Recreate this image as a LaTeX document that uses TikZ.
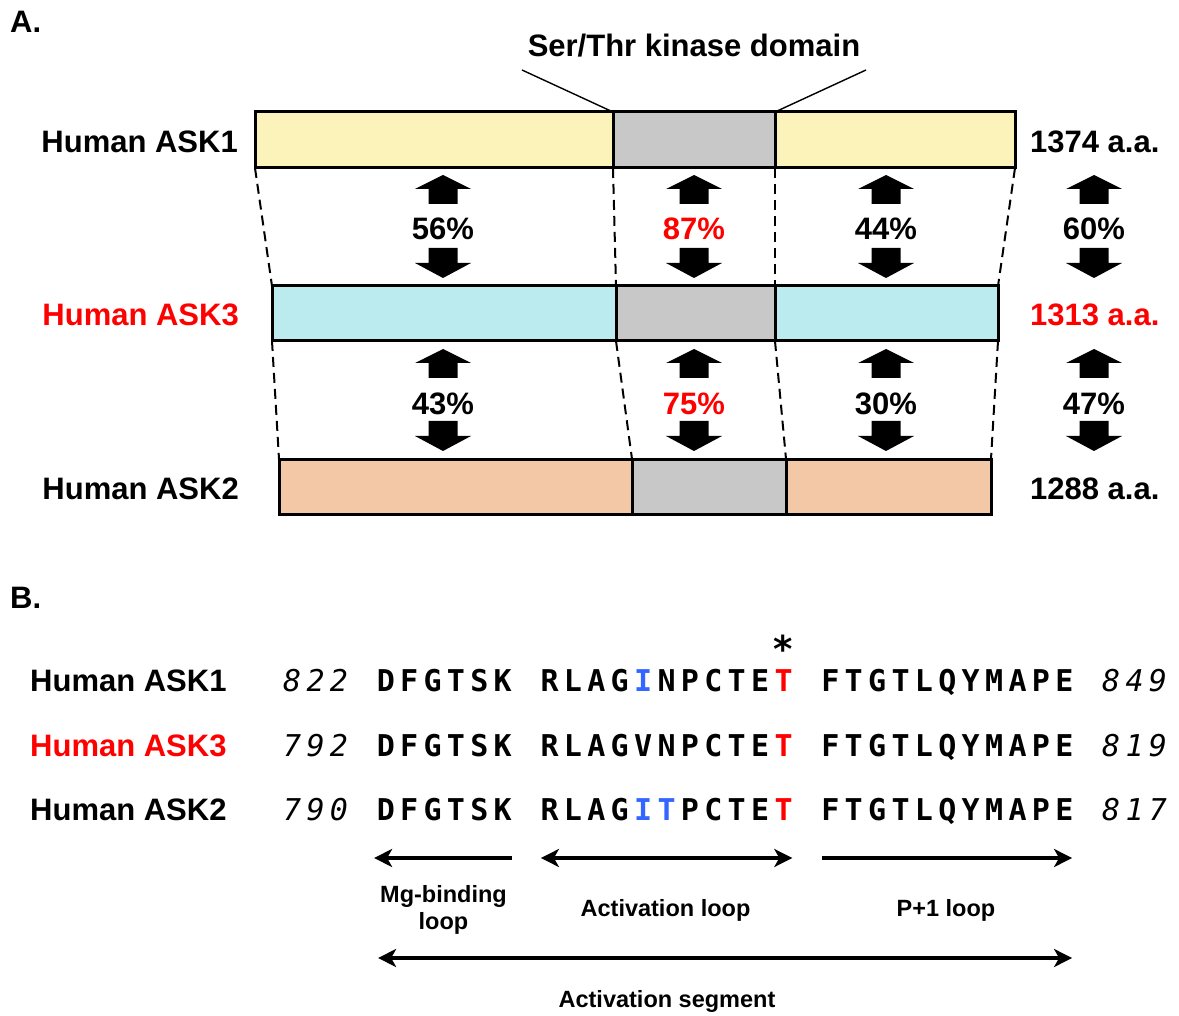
\documentclass[tikz,border=0pt]{standalone}
\usepackage{fontspec}
\setmainfont{Liberation Sans}
\newfontfamily\seqfont{DejaVu Sans Mono}
\newfontfamily\starfont{DejaVu Sans}
\usepackage{xcolor}
\usetikzlibrary{positioning,arrows.meta}

\definecolor{askyel}{RGB}{251,243,185}
\definecolor{askcyan}{RGB}{187,235,238}
\definecolor{askpeach}{RGB}{242,200,167}
\definecolor{kingrey}{RGB}{200,200,200}
\definecolor{hlred}{RGB}{255,0,0}
\definecolor{hlblue}{RGB}{51,102,255}

% one residue per fixed-width cell
\makeatletter
\newcommand\seqtxt[1]{\@tfor\sq@c:=#1\do{\makebox[23.4pt]{\sq@c}}}
\makeatother

\tikzset{
	lab/.style={font=\fontsize{31}{36}\selectfont\bfseries, inner sep=0pt},
	smalllab/.style={font=\fontsize{23.5}{27}\selectfont\bfseries, align=center, inner sep=0pt},
	seq/.style={font=\fontsize{30}{36}\selectfont\seqfont\bfseries, inner sep=0pt, outer sep=0pt, anchor=base west},
	seqno/.style={seq, font=\fontsize{30}{36}\selectfont\seqfont\itshape},
	bar/.style={draw, line width=3pt, minimum height=56pt, inner sep=0pt, outer sep=0pt, anchor=north west},
	linkdash/.style={line width=2pt, dash pattern=on 10pt off 6pt},
	callout/.style={line width=1.4pt},
	segarr/.style={line width=3.2pt, {Stealth[length=18pt,width=18pt,inset=5pt]}-{Stealth[length=18pt,width=18pt,inset=5pt]}},
	pics/uparr/.style={code={\fill (0,0) -- (28,14) -- (14.5,14) -- (14.5,29) -- (-14.5,29) -- (-14.5,14) -- (-28,14) -- cycle;}},
	pics/dnarr/.style={code={\fill (0,0) -- (28,-15) -- (14.5,-15) -- (14.5,-30) -- (-14.5,-30) -- (-14.5,-15) -- (-28,-15) -- cycle;}},
}

\begin{document}
\begin{tikzpicture}[x=1pt,y=-1pt]
	\useasboundingbox (0,0) rectangle (1179,1016);
	
	% A. domain bars
	\node[lab, anchor=base west] (pa) at (10,33) {A.};
	
	\node[bar, fill=askyel, minimum width=358pt] (a1l) at (255,112) {};
	\node[bar, fill=kingrey, minimum width=162pt, right=0pt of a1l] (a1k) {};
	\node[bar, fill=askyel, minimum width=240pt, right=0pt of a1k] (a1r) {};
	
	\node[bar, fill=askcyan, minimum height=55pt, minimum width=344pt] (a3l) at (272,286) {};
	\node[bar, fill=kingrey, minimum height=55pt, minimum width=159pt, right=0pt of a3l] (a3k) {};
	\node[bar, fill=askcyan, minimum height=55pt, minimum width=223pt, right=0pt of a3k] (a3r) {};
	
	\node[bar, fill=askpeach, minimum height=55pt, minimum width=353pt] (a2l) at (279,459) {};
	\node[bar, fill=kingrey, minimum height=55pt, minimum width=154pt, right=0pt of a2l] (a2k) {};
	\node[bar, fill=askpeach, minimum height=55pt, minimum width=205pt, right=0pt of a2k] (a2r) {};
	
	% kinase domain label
	\node[lab, anchor=base] (kd) at (694,57) {Ser/Thr kinase domain};
	\coordinate (kdl) at (522,70);
	\coordinate (kdr) at (866,70);
	\draw[callout] (kdl) -- (a1k.north west);
	\draw[callout] (kdr) -- (a1k.north east);
	
	% row labels
	\node[lab, anchor=base east] (h1) at (238,153) {Human ASK1};
	\node[lab, anchor=base east, text=hlred] (h3) at (239,326) {Human ASK3};
	\node[lab, anchor=base east] (h2) at (239,499) {Human ASK2};
	\node[lab, anchor=base west] (l1) at (1030,153) {1374 a.a.};
	\node[lab, anchor=base west, text=hlred] (l3) at (1030,326) {1313 a.a.};
	\node[lab, anchor=base west] (l2) at (1030,499) {1288 a.a.};
	
	% dashed links between bars
	\draw[linkdash] (a1l.south west) -- (a3l.north west);
	\draw[linkdash] (a1k.south west) -- (a3k.north west);
	\draw[linkdash] (a1k.south east) -- (a3k.north east);
	\draw[linkdash] (a1r.south east) -- (a3r.north east);
	\draw[linkdash] (a3l.south west) -- (a2l.north west);
	\draw[linkdash] (a3k.south west) -- (a2k.north west);
	\draw[linkdash] (a3k.south east) -- (a2k.north east);
	\draw[linkdash] (a3r.south east) -- (a2r.north east);
	
	% identities
	\foreach \x/\cc/\pa/\pb in {443/black/56/43, 694/hlred/87/75, 886/black/44/30, 1094/black/60/47}{
		\pic at (\x,175) {uparr};
		\node[lab, text=\cc, anchor=base] (pa\x) at (\x,240) {\pa\%};
		\pic at (\x,278) {dnarr};
		\pic at (\x,349) {uparr};
		\node[lab, text=\cc, anchor=base] (pb\x) at (\x,414) {\pb\%};
		\pic at (\x,451) {dnarr};
	}
	
	% B. alignment
	\node[lab, anchor=base west] (pb) at (10,608) {B.};
	\node[anchor=base, inner sep=0pt, font=\fontsize{37}{37}\selectfont\starfont\bfseries] (star) at (783.6,662) {*};
	
	\node[lab, anchor=base west] (b1) at (30,691) {Human ASK1};
	\node[lab, anchor=base west, text=hlred] (b3) at (30,756) {Human ASK3};
	\node[lab, anchor=base west] (b2) at (30,820) {Human ASK2};
	
	\node[seqno] (s1n) at (280.5,691) {\seqtxt{822}};
	\node[seq] (s1a) at (374.1,691) {\seqtxt{DFGTSK}};
	\node[seq] (s1b) at (537.9,691) {\seqtxt{RLAG{\color{hlblue}I}NPCTE{\color{hlred}T}}};
	\node[seq] (s1c) at (818.7,691) {\seqtxt{FTGTLQYMAPE}};
	\node[seqno] (s1e) at (1099.5,691) {\seqtxt{849}};
	
	\node[seqno] (s3n) at (280.5,756) {\seqtxt{792}};
	\node[seq] (s3a) at (374.1,756) {\seqtxt{DFGTSK}};
	\node[seq] (s3b) at (537.9,756) {\seqtxt{RLAGVNPCTE{\color{hlred}T}}};
	\node[seq] (s3c) at (818.7,756) {\seqtxt{FTGTLQYMAPE}};
	\node[seqno] (s3e) at (1099.5,756) {\seqtxt{819}};
	
	\node[seqno] (s2n) at (280.5,820) {\seqtxt{790}};
	\node[seq] (s2a) at (374.1,820) {\seqtxt{DFGTSK}};
	\node[seq] (s2b) at (537.9,820) {\seqtxt{RLAG{\color{hlblue}I}{\color{hlblue}T}PCTE{\color{hlred}T}}};
	\node[seq] (s2c) at (818.7,820) {\seqtxt{FTGTLQYMAPE}};
	\node[seqno] (s2e) at (1099.5,820) {\seqtxt{817}};
	
	% regions
	\draw[segarr, -{Stealth[length=18pt,width=18pt,inset=5pt]}, shorten <=3pt] (s2a.east |- 0,858) -- (s2a.west |- 0,858);
	\draw[segarr, shorten <=3pt, shorten >=3pt] (s2b.west |- 0,858) -- (s2b.east |- 0,858);
	\draw[segarr, -{Stealth[length=18pt,width=18pt,inset=5pt]}, shorten <=3pt, shorten >=4pt] (s2c.west |- 0,858) -- (s2c.east |- 0,858);
	\draw[segarr, shorten <=4pt, shorten >=4pt] (s2a.west |- 0,958) -- (s2c.east |- 0,958);
	
	\node[smalllab] (mg) at (443.5,910) {Mg-binding\\loop};
	\node[smalllab] (al) at (665.5,910) {Activation loop};
	\node[smalllab] (p1) at (946,910) {P+1 loop};
	\node[smalllab] (as) at (667,1001) {Activation segment};
\end{tikzpicture}
\end{document}
